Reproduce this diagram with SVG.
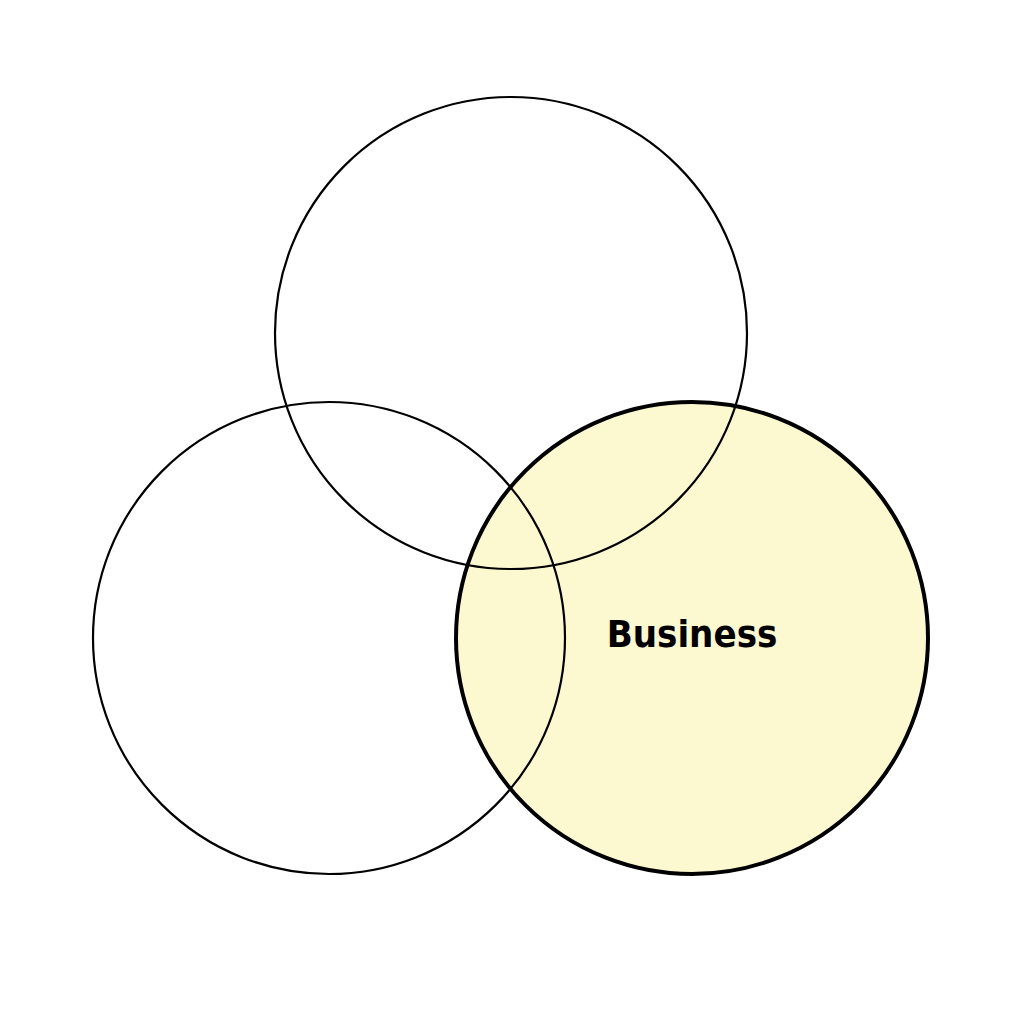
<svg xmlns="http://www.w3.org/2000/svg" width="1024" height="1024" viewBox="0 0 1024 1024">
<style>
.thin{fill:none;stroke:#000;stroke-width:2.2}
.label{font-family:"DejaVu Sans Condensed","DejaVu Sans",sans-serif;font-weight:bold;font-size:38px;fill:#000}
</style>
<rect width="1024" height="1024" fill="#fff"/>
<g id="business-fill"><circle cx="692" cy="638" r="236" fill="#FCF8D0"/></g>
<g id="top-circle"><circle class="thin" cx="511" cy="333" r="236"/></g>
<g id="left-circle"><circle class="thin" cx="329" cy="638" r="236"/></g>
<g id="business">
<circle cx="692" cy="638" r="236" fill="none" stroke="#000" stroke-width="4"/>
<text class="label" x="692" y="636" text-anchor="middle" dominant-baseline="middle">Business</text>
</g>
</svg>
